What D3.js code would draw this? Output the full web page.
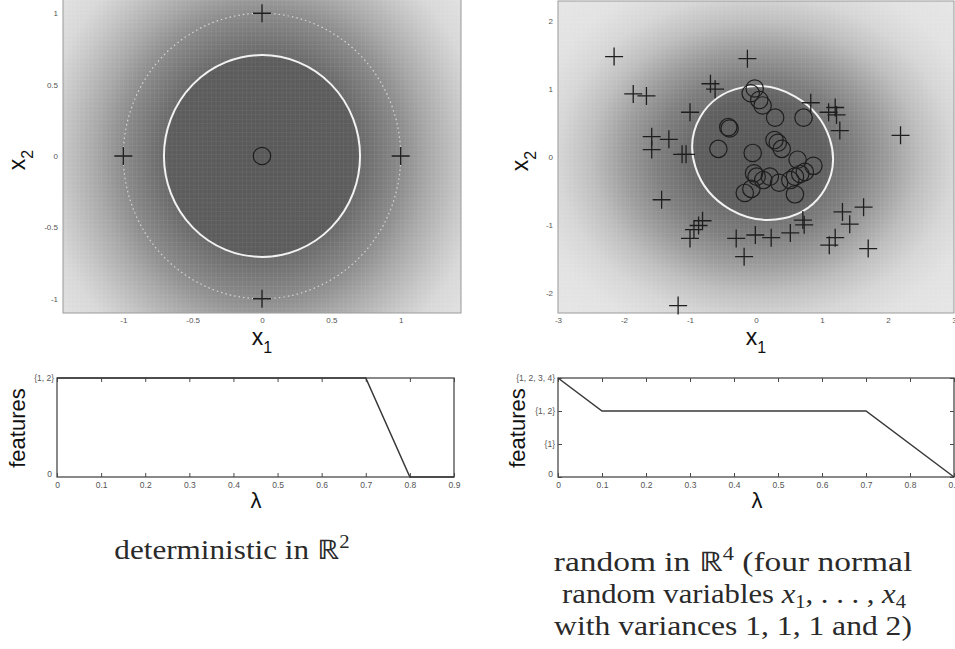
<!DOCTYPE html>
<html>
<head>
<meta charset="utf-8">
<script src="https://d3js.org/d3.v7.min.js"></script>
<style>
  body { margin: 0; background: #fff; }
  svg { display: block; }
</style>
</head>
<body>
<svg id="chart" width="955" height="649"></svg>
<script>
// ---- data ----

// deterministic example in R^2
var detCrossX = [-1, 1, 0, 0],
    detCrossY = [0, 0, 1, -1];
var detCircleX = [0],
    detCircleY = [0];
var detInnerR = 0.707,   // white boundary
    detOuterR = 1;       // dotted circle
var detTicks = [-1, -0.5, 0, 0.5, 1];

// random example (x1 vs x2)
var rndCrossX = [-2.15, -1.86, -1.66, -0.13, -0.69, -0.62, -1.00, -1.58, -1.58, -1.32, -1.12, -1.06, -1.43,
                 -0.81, -0.87, -0.94, -1.00, -0.30, -0.01, 0.23, 0.52, -0.18, -1.18, 0.71, 0.73,
                 0.83, 1.10, 1.20, 1.22, 1.27, 2.19, 1.31, 1.42, 1.63, 1.70, 1.20, 1.11];
var rndCrossY = [1.48, 0.93, 0.90, 1.45, 1.08, 1.00, 0.66, 0.30, 0.11, 0.26, 0.04, 0.04, -0.63,
                 -0.94, -1.01, -1.07, -1.20, -1.20, -1.15, -1.19, -1.12, -1.47, -2.19, -0.93, -1.00,
                 0.80, 0.66, 0.73, 0.62, 0.39, 0.32, -0.81, -0.99, -0.74, -1.35, -1.19, -1.30];
var rndCircleX = [-0.02, -0.08, 0.05, 0.10, 0.29, 0.72, -0.42, -0.40, -0.57, -0.05, 0.28, 0.33, 0.39, 0.63,
                  0.87, 0.74, 0.67, 0.59, 0.52, -0.03, 0.01, 0.11, 0.21, 0.35, 0.59, -0.17, -0.07];
var rndCircleY = [1.01, 0.94, 0.84, 0.76, 0.58, 0.58, 0.44, 0.42, 0.12, 0.06, 0.25, 0.21, 0.12, -0.04,
                  -0.13, -0.22, -0.25, -0.29, -0.34, -0.24, -0.29, -0.34, -0.29, -0.38, -0.55, -0.53, -0.47];
var rndEllipse = {cx: 0.1, cy: 0.06, rx: 1.09, ry: 0.96, tilt: 30};
var rndXTicks = [-3, -2, -1, 0, 1, 2, 3],
    rndYTicks = [-2, -1, 0, 1, 2];

// feature paths against lambda
var lambdaTicks = [0, 0.1, 0.2, 0.3, 0.4, 0.5, 0.6, 0.7, 0.8, 0.9];
var detLevels = ["0", "{1, 2}"],
    rndLevels = ["0", "{1}", "{1, 2}", "{1, 2, 3, 4}"];
var detLambda = [0, 0.7, 0.8, 0.9],
    detFeat = ["{1, 2}", "{1, 2}", "0", "0"];
var rndLambda = [0, 0.1, 0.7, 0.9],
    rndFeat = ["{1, 2, 3, 4}", "{1, 2}", "{1, 2}", "0"];

// ---- drawing ----
var sans = "'Liberation Sans', Arial, sans-serif",
    serif = "'Liberation Serif', 'Times New Roman', serif";
var plain = function(d) { return String(d); };

var svg = d3.select("#chart"),
    defs = svg.append("defs");

// set the ranges
var xDet = d3.scaleLinear().domain([-1.435, 1.435]).range([63, 461]),
    yDet = d3.scaleLinear().domain([-1.1, 1.1]).range([313, -1]);
var xRnd = d3.scaleLinear().domain([-3, 3]).range([558, 954]),
    yRnd = d3.scaleLinear().domain([-2.3, 2.3]).range([313, 1]);
var lamDet = d3.scaleLinear().domain([0, 0.9]).range([57, 454]),
    fDet = d3.scalePoint().domain(detLevels).range([477, 378]);
var lamRnd = d3.scaleLinear().domain([0, 0.9]).range([558, 954]),
    fRnd = d3.scalePoint().domain(rndLevels).range([477, 378]);

// faint cell grid of the shaded image
defs.append("pattern")
    .attr("id", "cells")
    .attr("patternUnits", "userSpaceOnUse")
    .attr("width", 4.4).attr("height", 4.4)
  .append("path")
    .attr("d", "M0,0H4.4M0,0V4.4")
    .attr("stroke", "rgba(255,255,255,0.13)")
    .attr("stroke-width", 0.8)
    .attr("fill", "none");

// radial grey shading, stops = [radius in x units, grey level]
function shade(id, x, y, stops, squash) {
  var cx = x(0), cy = y(0),
      unit = x(1) - x(0),
      rMax = stops[stops.length - 1][0],
      k = (y(0) - y(1)) / unit * squash;
  var grad = defs.append("radialGradient")
      .attr("id", id)
      .attr("gradientUnits", "userSpaceOnUse")
      .attr("cx", cx).attr("cy", cy).attr("r", rMax * unit)
      .attr("gradientTransform", "translate(" + cx + "," + cy + ") scale(1," + k + ") translate(" + (-cx) + "," + (-cy) + ")");
  grad.selectAll("stop").data(stops).enter().append("stop")
      .attr("offset", function(d) { return d[0] / rMax; })
      .attr("stop-color", function(d) { return d3.rgb(d[1], d[1], d[1]); });
}

shade("shadeDet", xDet, yDet,
      [[0, 100], [0.7, 104], [1.0, 138], [1.2, 168], [1.435, 198], [1.6, 216], [1.9, 228]], 1);
shade("shadeRnd", xRnd, yRnd,
      [[0, 98], [1.0, 106], [1.5, 126], [2.0, 156], [2.5, 190], [3.0, 214], [3.5, 226], [4.2, 230]], 0.8);

function imagePanel(x, y, id) {
  var x0 = x.range()[0], x1 = x.range()[1],
      y0 = y.range()[1], y1 = y.range()[0];
  svg.append("rect").attr("x", x0).attr("y", y0).attr("width", x1 - x0).attr("height", y1 - y0)
      .attr("fill", "url(#" + id + ")");
  svg.append("rect").attr("x", x0).attr("y", y0).attr("width", x1 - x0).attr("height", y1 - y0)
      .attr("fill", "url(#cells)");
  svg.append("rect").attr("x", x0).attr("y", y0).attr("width", x1 - x0).attr("height", y1 - y0)
      .attr("fill", "none").attr("stroke", "#9a9a9a").attr("stroke-width", 1);
}

imagePanel(xDet, yDet, "shadeDet");
imagePanel(xRnd, yRnd, "shadeRnd");

// boundaries
svg.append("ellipse")
    .attr("cx", xDet(0)).attr("cy", yDet(0))
    .attr("rx", xDet(detInnerR) - xDet(0)).attr("ry", yDet(0) - yDet(detInnerR))
    .attr("fill", "rgba(0,0,0,0.1)")
    .attr("stroke", "#f2f2f2").attr("stroke-width", 2);
svg.append("ellipse")
    .attr("cx", xDet(0)).attr("cy", yDet(0))
    .attr("rx", xDet(detOuterR) - xDet(0)).attr("ry", yDet(0) - yDet(detOuterR))
    .attr("fill", "none")
    .attr("stroke", "#d6d6d6").attr("stroke-width", 1.2)
    .attr("stroke-dasharray", "1.5,3");

svg.append("ellipse")
    .attr("cx", xRnd(rndEllipse.cx)).attr("cy", yRnd(rndEllipse.cy))
    .attr("rx", xRnd(rndEllipse.rx) - xRnd(0)).attr("ry", yRnd(0) - yRnd(rndEllipse.ry))
    .attr("transform", "rotate(" + rndEllipse.tilt + "," + xRnd(rndEllipse.cx) + "," + yRnd(rndEllipse.cy) + ")")
    .attr("fill", "rgba(0,0,0,0.1)")
    .attr("stroke", "#f2f2f2").attr("stroke-width", 2);

// markers
function crosses(xs, ys, x, y) {
  svg.append("g").selectAll("path")
      .data(xs.map(function(d, i) { return [d, ys[i]]; }))
    .enter().append("path")
      .attr("transform", function(d) { return "translate(" + x(d[0]) + "," + y(d[1]) + ")"; })
      .attr("d", "M-9,0H9M0,-9V9")
      .attr("stroke", "#1e1e1e").attr("stroke-width", 1.3)
      .attr("fill", "none");
}
function rings(xs, ys, x, y) {
  svg.append("g").selectAll("circle")
      .data(xs.map(function(d, i) { return [d, ys[i]]; }))
    .enter().append("circle")
      .attr("cx", function(d) { return x(d[0]); })
      .attr("cy", function(d) { return y(d[1]); })
      .attr("r", 8.7)
      .attr("stroke", "#1e1e1e").attr("stroke-width", 1.2)
      .attr("fill", "none");
}
crosses(detCrossX, detCrossY, xDet, yDet);
rings(detCircleX, detCircleY, xDet, yDet);
crosses(rndCrossX, rndCrossY, xRnd, yRnd);
rings(rndCircleX, rndCircleY, xRnd, yRnd);

// tick labels of the image panels
function imageTicks(x, y, xt, yt) {
  svg.append("g")
      .attr("transform", "translate(0," + y.range()[0] + ")")
      .call(d3.axisBottom(x).tickValues(xt).tickSize(0).tickPadding(4).tickFormat(plain))
      .call(styleLabels);
  svg.append("g")
      .attr("transform", "translate(" + x.range()[0] + ",0)")
      .call(d3.axisLeft(y).tickValues(yt).tickSize(0).tickPadding(5).tickFormat(plain))
      .call(styleLabels);
}
function styleLabels(g) {
  g.select(".domain").remove();
  g.selectAll(".tick text").attr("fill", "#555").attr("font-family", sans).attr("font-size", 8);
}
imageTicks(xDet, yDet, detTicks, detTicks);
imageTicks(xRnd, yRnd, rndXTicks, rndYTicks);

// feature path panels
function pathPanel(lam, feat, lams, feats, rightTicks) {
  var x0 = lam.range()[0], x1 = lam.range()[1],
      yb = feat.range()[0], yt = feat.range()[1];

  svg.append("g")
      .attr("transform", "translate(0," + yb + ")")
      .call(d3.axisBottom(lam).tickValues(lambdaTicks).tickSize(-4).tickSizeOuter(0).tickPadding(5).tickFormat(plain))
      .call(customPathAxis);
  svg.append("g")
      .attr("transform", "translate(0," + yt + ")")
      .call(d3.axisTop(lam).tickValues(lambdaTicks).tickSize(-4).tickSizeOuter(0).tickFormat(""))
      .call(customPathAxis);
  var yAxis = svg.append("g")
      .attr("transform", "translate(" + x0 + ",0)")
      .call(d3.axisLeft(feat).tickSize(rightTicks ? -4 : 0).tickPadding(3))
      .call(customPathAxis);
  // the zero label sits a little above the corner, clear of the lambda "0"
  yAxis.selectAll(".tick text").filter(function(d) { return d === "0"; })
      .attr("dy", "-0.1em").attr("x", -5);
  if (rightTicks) {
    svg.append("g")
        .attr("transform", "translate(" + x1 + ",0)")
        .call(d3.axisRight(feat).tickSize(-4).tickFormat(""))
        .call(customPathAxis);
  }
  svg.append("rect")
      .attr("x", x0).attr("y", yt).attr("width", x1 - x0).attr("height", yb - yt)
      .attr("fill", "none").attr("stroke", "#4a4a4a").attr("stroke-width", 1.3);

  var line = d3.line()
      .x(function(d) { return lam(d[0]); })
      .y(function(d) { return feat(d[1]); });
  svg.append("path")
      .datum(lams.map(function(d, i) { return [d, feats[i]]; }))
      .attr("d", line)
      .attr("fill", "none")
      .attr("stroke", "#383838")
      .attr("stroke-width", 1.5);
}
function customPathAxis(g) {
  g.select(".domain").remove();
  g.selectAll(".tick line").attr("stroke", "#4a4a4a").attr("stroke-width", 1);
  g.selectAll(".tick text").attr("fill", "#555").attr("font-family", sans).attr("font-size", 8.5);
}
pathPanel(lamDet, fDet, detLambda, detFeat, false);
pathPanel(lamRnd, fRnd, rndLambda, rndFeat, true);

// axis titles
function subLabel(x, y, base, sub, rotate) {
  var t = svg.append("text")
      .attr("transform", "translate(" + x + "," + y + ")" + (rotate ? " rotate(-90)" : ""))
      .attr("text-anchor", "middle")
      .attr("font-family", sans)
      .attr("font-size", 23)
      .attr("fill", "#111");
  t.append("tspan").text(base);
  t.append("tspan").attr("font-size", 16).attr("dy", 8).text(sub);
}
subLabel(262, 345, "x", "1", false);
subLabel(756, 345, "x", "1", false);
subLabel(25, 160, "x", "2", true);
subLabel(528, 161, "x", "2", true);

[[25, 428], [525, 428]].forEach(function(p) {
  svg.append("text")
      .attr("transform", "translate(" + p[0] + "," + p[1] + ") rotate(-90)")
      .attr("text-anchor", "middle")
      .attr("font-family", sans).attr("font-size", 22).attr("fill", "#111")
      .text("features");
});
[[256, 508], [757, 508]].forEach(function(p) {
  svg.append("text")
      .attr("x", p[0]).attr("y", p[1])
      .attr("text-anchor", "middle")
      .attr("font-family", sans).attr("font-size", 22).attr("fill", "#111")
      .text("λ");
});

// captions, stretched to the width of the Computer Modern original
function caption(cx, y, width, parts) {
  var g = svg.append("g").attr("transform", "translate(" + cx + "," + y + ")");
  var t = g.append("text")
      .attr("text-anchor", "middle")
      .attr("font-family", serif)
      .attr("font-size", 27)
      .attr("fill", "#2a2a2a");
  parts.forEach(function(p) {
    var s = t.append("tspan").text(p.t);
    if (p.sup) s.attr("font-size", 18).attr("dy", -11);
    if (p.sub) s.attr("font-size", 18).attr("dy", 5);
    if (p.back) s.attr("dy", p.back);
    if (p.it) s.attr("font-style", "italic");
  });
  var w = t.node().getComputedTextLength();
  g.attr("transform", "translate(" + cx + "," + y + ") scale(" + (width / w) + ",1)");
}
caption(232, 559, 235, [{t: "deterministic in ℝ"}, {t: "2", sup: true}]);
caption(733, 571, 358, [{t: "random in ℝ"}, {t: "4", sup: true}, {t: " (four normal", back: 11}]);
caption(734, 603, 344, [{t: "random variables "}, {t: "x", it: true}, {t: "1", sub: true},
                        {t: ", . . . , ", back: -5}, {t: "x", it: true}, {t: "4", sub: true}]);
caption(733, 635, 358, [{t: "with variances 1, 1, 1 and 2)"}]);
</script>
</body>
</html>
